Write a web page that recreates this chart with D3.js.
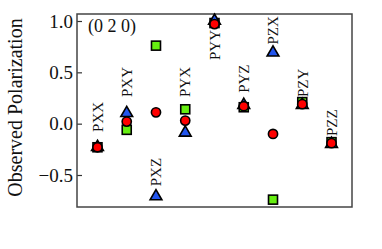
<!DOCTYPE html>
<html>
<head>
<meta charset="utf-8">
<script src="https://cdn.jsdelivr.net/npm/d3@7"></script>
<style>
  body { margin: 0; background: #fff; }
  svg { display: block; }
</style>
</head>
<body>
<svg id="chart" width="382" height="249"></svg>
<script>
// components of the polarization, one per column
const components = ["PXX", "PXY", "PXZ", "PYX", "PYY", "PYZ", "PZX", "PZY", "PZZ"];
// where each rotated label starts (data units)
const labelAt = [-0.08, 0.26, -0.61, 0.26, 0.62, 0.30, 0.77, 0.26, -0.12];

const squareVals   = [-0.23, -0.06, 0.76, 0.14, 0.98, 0.16, -0.74, 0.21, -0.18];
const triangleVals = [-0.22, 0.11, -0.70, -0.08, 1.01, 0.19, 0.70, 0.19, -0.19];
const circleVals   = [-0.23, 0.02, 0.11, 0.03, 0.97, 0.17, -0.10, 0.19, -0.19];

const yTicks = [1.0, 0.5, 0.0, -0.5];

const svg = d3.select("#chart");
const mLeft = 77, mRight = 352, mTop = 14, mBottom = 207;

const x = d3.scaleLinear().domain([0.3, 9.7]).range([mLeft, mRight]);
const y = d3.scaleLinear().domain([1.0, -0.5]).range([21, 175]);

// y axis, ticks pointing in
const yAxis = d3.axisLeft(y).tickValues(yTicks)
  .tickSizeInner(-5).tickSizeOuter(0).tickPadding(4)
  .tickFormat(d3.format(".1f"));
const gy = svg.append("g").attr("transform", `translate(${mLeft},0)`).call(yAxis);
gy.select(".domain").remove();
gy.selectAll(".tick line").attr("stroke", "#333").attr("stroke-width", 1.2);
gy.selectAll(".tick text")
  .attr("font-family", "Liberation Serif, Times New Roman, serif")
  .attr("font-size", 19).attr("fill", "#111");

svg.append("rect")
  .attr("x", mLeft).attr("y", mTop)
  .attr("width", mRight - mLeft).attr("height", mBottom - mTop)
  .attr("fill", "none").attr("stroke", "#444").attr("stroke-width", 1.5);

svg.append("text")
  .attr("transform", `translate(15,${(mTop + mBottom) / 2 - 3}) rotate(-90)`)
  .attr("text-anchor", "middle").attr("dy", "0.35em")
  .attr("font-family", "Liberation Serif, Times New Roman, serif")
  .attr("font-size", 20).attr("fill", "#111")
  .text("Observed Polarization");

svg.append("text")
  .attr("x", mLeft + 11).attr("y", 32)
  .attr("font-family", "Liberation Serif, Times New Roman, serif")
  .attr("font-size", 18).attr("fill", "#111")
  .text("(0 2 0)");

// component labels
svg.append("g").selectAll("text")
  .data(components)
  .join("text")
  .attr("transform", (d, i) => `translate(${x(i + 1)},${y(labelAt[i])}) rotate(-90)`)
  .attr("dy", "0.35em")
  .attr("font-family", "Liberation Serif, Times New Roman, serif")
  .attr("font-size", 15).attr("fill", "#111")
  .text(d => d);

const marks = svg.append("g");

marks.selectAll("rect.sq")
  .data(squareVals)
  .join("rect")
  .attr("class", "sq")
  .attr("x", (d, i) => x(i + 1) - 4.5).attr("y", d => y(d) - 4.5)
  .attr("width", 9).attr("height", 9)
  .attr("fill", "#66ee11").attr("stroke", "#000").attr("stroke-width", 1.6);

const tri = d3.symbol().type(d3.symbolTriangle).size(60);
marks.selectAll("path.tri")
  .data(triangleVals)
  .join("path")
  .attr("class", "tri")
  .attr("d", tri)
  .attr("transform", (d, i) => `translate(${x(i + 1)},${y(d) + 0.8})`)
  .attr("fill", "#2255ee").attr("stroke", "#000").attr("stroke-width", 1.6);

marks.selectAll("circle")
  .data(circleVals)
  .join("circle")
  .attr("cx", (d, i) => x(i + 1)).attr("cy", d => y(d))
  .attr("r", 4.6)
  .attr("fill", "#ff0000").attr("stroke", "#000").attr("stroke-width", 1.6);
</script>
</body>
</html>
